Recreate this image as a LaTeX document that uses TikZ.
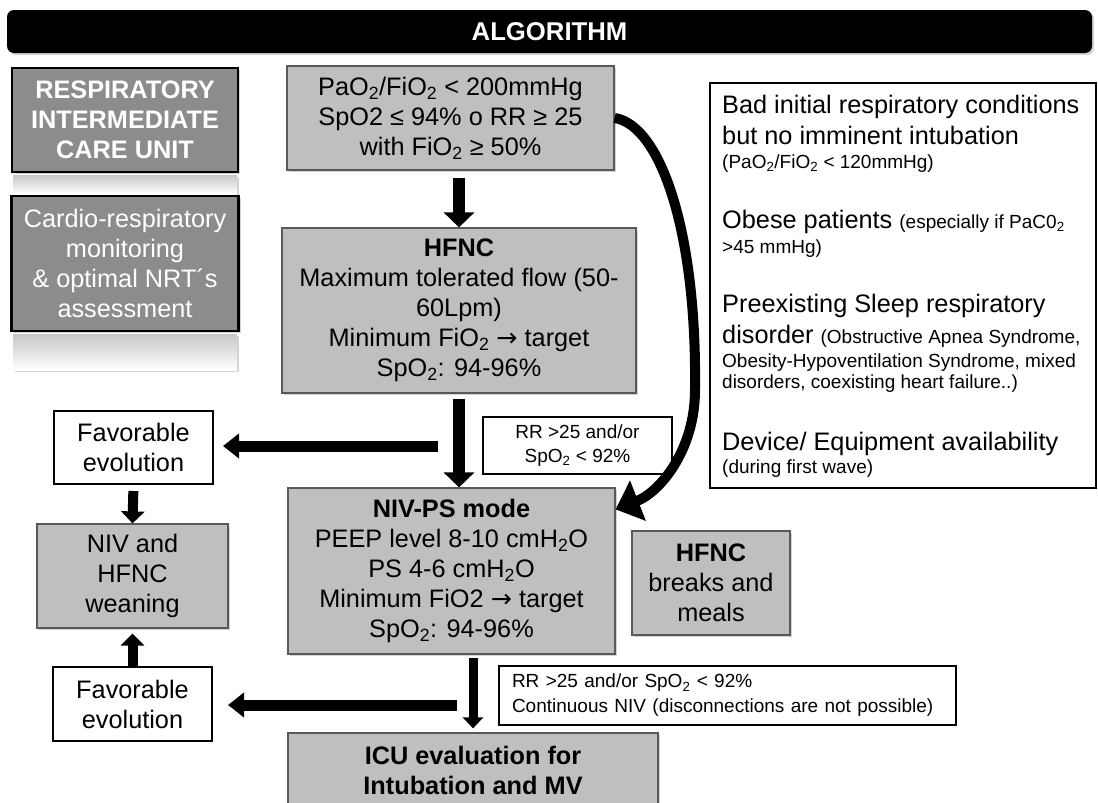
\documentclass[tikz,border=0pt]{standalone}
\usepackage{fontspec}
\setmainfont{Liberation Sans}
\newfontfamily\arrowfont{DejaVu Sans}
\usetikzlibrary{arrows.meta,shadows}
\newcommand{\smalltxt}{\fontsize{19}{22}\selectfont}
\newcommand{\sm}[1]{\textsubscript{#1}}
\newcommand{\goes}{{\arrowfont →}}

\begin{document}
\begin{tikzpicture}
[x=1pt,y=-1pt,
 every node/.style={font=\fontsize{25.3}{30}\selectfont},
 shade/.style={drop shadow={shadow xshift=2pt,shadow yshift=-2pt,opacity=.35}},
 titlebar/.style={fill=black,text=white,rounded corners=7pt,inner sep=0pt,
   minimum width=1085pt,minimum height=43pt,font=\bfseries\fontsize{25.7}{30}\selectfont,shade},
 darkbox/.style={draw=black,line width=2.5pt,fill=black!45,text=white,align=center,inner sep=0pt,shade},
 greybox/.style={draw=black!65,line width=1.2pt,fill=black!25,align=center,inner sep=0pt,shade},
 whitebox/.style={draw=black,line width=2pt,fill=white,align=center,inner sep=0pt},
 rline/.style={anchor=base west,inner sep=0pt},
 fat/.style={line width=12pt,-{Triangle[length=15pt,width=30pt]}},
 side/.style={line width=11pt,-{Triangle[length=16pt,width=24pt]}},
 slim/.style={line width=10pt,-{Triangle[length=12pt,width=23pt]}},
 curvy/.style={line width=10pt,-{Triangle[length=24pt,width=42pt]}}]
\useasboundingbox (0,0) rectangle (1098,803);

% header
\node[titlebar] (title) at (549.5,31.5) {ALGORITHM};

% unit boxes on the left, with their faded mirror
\node[darkbox,font=\bfseries\fontsize{25.3}{30}\selectfont,minimum width=226pt,minimum height=104pt]
  (ricu) at (125,120) {RESPIRATORY\\INTERMEDIATE\\CARE UNIT};
\shade[top color=black!22,bottom color=white] (13,175) rectangle (237,194);
\node[darkbox,minimum width=227pt,minimum height=135pt]
  (cardio) at (125,263.5) {Cardio-respiratory\\monitoring\\\& optimal NRT´s\\assessment};
\shade[top color=black!22,bottom color=white] (13,334) rectangle (237,370);

% main column
\node[greybox,minimum width=327pt,minimum height=104pt] (crit) at (450.5,118)
  {PaO\sm2/FiO\sm2 < 200mmHg\\SpO2 ≤ 94\% o RR ≥ 25\\with FiO\sm2 ≥ 50\%};
\node[greybox,minimum width=354pt,minimum height=165pt] (hfnc) at (459,310.5)
  {\textbf{HFNC}\\Maximum tolerated flow (50-\\60Lpm)\\Minimum FiO\sm2 \goes{} target\\SpO\sm2: 94-96\%};
\node[whitebox,font=\fontsize{19}{24}\selectfont,minimum width=189pt,minimum height=57pt]
  (rr1) at (577.5,445.5) {RR >25 and/or\\SpO\sm2 < 92\%};
\node[greybox,minimum width=327pt,minimum height=166pt] (niv) at (451.5,571)
  {\textbf{NIV-PS mode}\\PEEP level 8-10 cmH\sm2O\\PS 4-6 cmH\sm2O\\Minimum FiO2 \goes{} target\\SpO\sm2: 94-96\%};
\node[greybox,minimum width=158pt,minimum height=104pt] (brk) at (711,583)
  {\textbf{HFNC}\\breaks and\\meals};
\node[whitebox,font=\fontsize{19}{25}\selectfont,text width=431pt,inner xsep=13pt,align=left,
  minimum height=59pt] (rr2) at (727.5,695.5)
  {RR >25 and/or SpO\sm2 < 92\%\\Continuous NIV (disconnections are not possible)};
\node[greybox,font=\bfseries\fontsize{25.3}{30}\selectfont,minimum width=370pt,minimum height=74pt]
  (icu) at (473,770) {ICU evaluation for\\Intubation and MV};

% weaning column
\node[whitebox,minimum width=159pt,minimum height=73pt] (fav1) at (133.5,447.5) {Favorable\\evolution};
\node[greybox,minimum width=191pt,minimum height=104pt] (wean) at (132.5,576) {NIV and\\HFNC\\weaning};
\node[whitebox,minimum width=159pt,minimum height=74pt] (fav2) at (132.5,704) {Favorable\\evolution};

% indications box
\node[draw,line width=2.5pt,minimum width=386pt,minimum height=405pt] (risk) at (903,285.5) {};
\node[rline] (r1) at (722,113) {Bad initial respiratory conditions};
\node[rline] (r2) at (722,144) {but no imminent intubation};
\node[rline,font=\smalltxt] (r3) at (722,168) {(PaO\sm2/FiO\sm2 < 120mmHg)};
\node[rline] (r4) at (722,228) {Obese patients {\smalltxt (especially if PaC0\sm2}};
\node[rline,font=\smalltxt] (r5) at (722,253) {>45 mmHg)};
\node[rline] (r6) at (722,312) {Preexisting Sleep respiratory};
\node[rline] (r7) at (722,343) {disorder {\smalltxt (Obstructive Apnea Syndrome,}};
\node[rline,font=\smalltxt] (r8) at (722,367) {Obesity-Hypoventilation Syndrome, mixed};
\node[rline,font=\smalltxt] (r9) at (722,388) {disorders, coexisting heart failure..)};
\node[rline] (r10) at (722,450) {Device/ Equipment availability};
\node[rline,font=\smalltxt] (r11) at (722,473) {(during first wave)};

% arrows
\coordinate (l1) at (438,446);
\coordinate (l2) at (457,705);
\coordinate (d3) at (473,654);
\draw[fat,shorten <=7pt] (hfnc.north |- crit.south) -- (hfnc.north);
\draw[fat,shorten <=5pt] (hfnc.south) -- (hfnc.south |- niv.north);
\draw[side,shorten >=9pt] (l1) -- (l1 -| fav1.east);
\draw[slim,shorten <=6pt] (fav1.south) -- (wean.north);
\draw[slim,shorten >=5pt] (fav2.north) -- (wean.south);
\draw[side,shorten >=15pt] (l2) -- (l2 -| fav2.east);
\draw[line width=9pt,-{Triangle[length=11pt,width=20pt]},shorten <=4pt,shorten >=4pt]
  (d3) -- (d3 |- icu.north);
\draw[curvy] (crit.east) .. controls (660,125) and (697,230) .. (695,390)
  .. controls (695,450) and (660,492) .. ([yshift=-22pt]niv.north east);
\end{tikzpicture}
\end{document}
